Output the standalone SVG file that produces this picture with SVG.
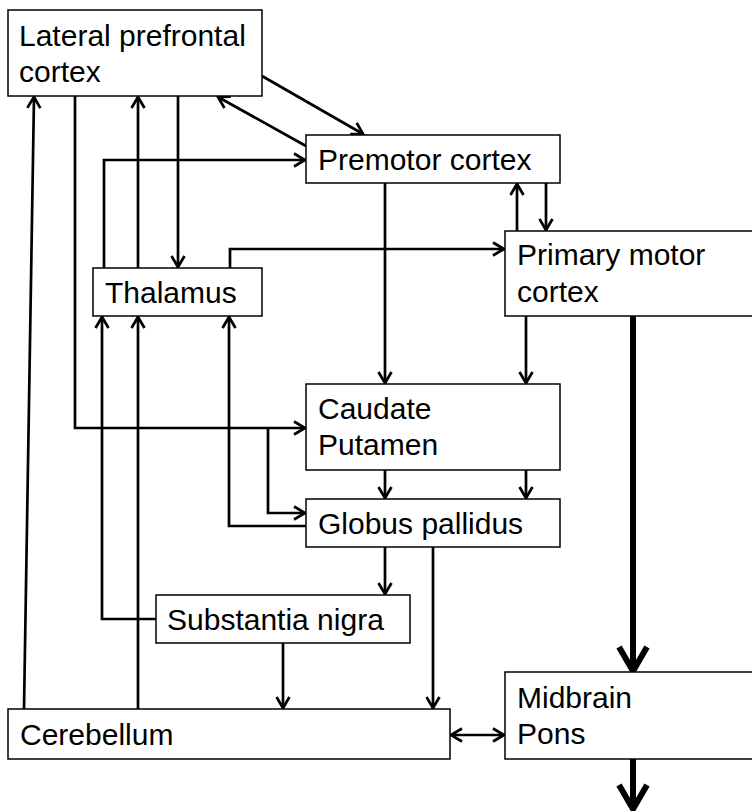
<svg xmlns="http://www.w3.org/2000/svg" width="752" height="811" viewBox="0 0 752 811">
<style>
.box{fill:#fff;stroke:#000;stroke-width:1.5}
.lbl{font-family:"Liberation Sans",Arial,sans-serif;font-size:30px;fill:#000}
.c{fill:none;stroke:#000;stroke-width:2.7;marker-end:url(#a)}
.t{fill:none;stroke:#000;stroke-width:6;marker-end:url(#b)}
</style>
<defs>
<marker id="a" markerUnits="userSpaceOnUse" markerWidth="16" markerHeight="16" refX="12" refY="7" orient="auto" overflow="visible">
<path d="M1,0.5 L12,7 L1,13.5" fill="none" stroke="#000" stroke-width="2.7"/>
</marker>
<marker id="s" markerUnits="userSpaceOnUse" markerWidth="16" markerHeight="16" refX="12" refY="7" orient="auto-start-reverse" overflow="visible">
<path d="M1,0.5 L12,7 L1,13.5" fill="none" stroke="#000" stroke-width="2.7"/>
</marker>
<marker id="b" markerUnits="userSpaceOnUse" markerWidth="32" markerHeight="32" refX="26" refY="15" orient="auto" overflow="visible">
<path d="M2,1 L26,15 L2,29" fill="none" stroke="#000" stroke-width="6"/>
</marker>
</defs>
<g id="connectors">
<path class="c" d="M24,709 L34,97"/>
<path class="c" d="M138,709 L138,317"/>
<path class="c" d="M138,268 L138,97"/>
<path class="c" d="M178,96 L178,267"/>
<path class="c" d="M75,96 L75,428 L305,428"/>
<path class="c" d="M268,428 L268,513 L305,513"/>
<path class="c" d="M104,268 L104,160 L305,160"/>
<path class="c" d="M262,76 L363,134"/>
<path class="c" d="M306,146 L218,97"/>
<path class="c" d="M230,268 L230,249 L504,249"/>
<path class="c" d="M546,183 L546,230"/>
<path class="c" d="M517,231 L517,184"/>
<path class="c" d="M385,183 L385,383"/>
<path class="c" d="M526,316 L526,383"/>
<path class="c" d="M385,470 L385,498"/>
<path class="c" d="M526,470 L526,498"/>
<path class="c" d="M306,526 L229,526 L229,317"/>
<path class="c" d="M156,619 L102,619 L102,317"/>
<path class="c" d="M385,547 L385,594"/>
<path class="c" d="M433,547 L433,708"/>
<path class="c" d="M283,643 L283,708"/>
<path class="c" d="M451,735 L504,735" marker-start="url(#s)"/>
<path class="t" d="M633,316 L633,671"/>
<path class="t" d="M633,759 L633,809"/>
</g>
<g id="lateral-prefrontal-cortex">
<rect class="box" x="8" y="10" width="254" height="86"/>
<text class="lbl" x="19" y="46">Lateral prefrontal</text>
<text class="lbl" x="19" y="82">cortex</text>
</g>
<g id="thalamus">
<rect class="box" x="93" y="268" width="169" height="48"/>
<text class="lbl" x="105" y="303">Thalamus</text>
</g>
<g id="premotor-cortex">
<rect class="box" x="306" y="135" width="254" height="48"/>
<text class="lbl" x="318" y="170">Premotor cortex</text>
</g>
<g id="primary-motor-cortex">
<rect class="box" x="505" y="231" width="260" height="85"/>
<text class="lbl" x="517" y="265">Primary motor</text>
<text class="lbl" x="517" y="302">cortex</text>
</g>
<g id="caudate-putamen">
<rect class="box" x="306" y="384" width="254" height="86"/>
<text class="lbl" x="318" y="419">Caudate</text>
<text class="lbl" x="318" y="455">Putamen</text>
</g>
<g id="globus-pallidus">
<rect class="box" x="306" y="499" width="254" height="48"/>
<text class="lbl" x="318" y="534">Globus pallidus</text>
</g>
<g id="substantia-nigra">
<rect class="box" x="156" y="595" width="254" height="48"/>
<text class="lbl" x="167" y="630">Substantia nigra</text>
</g>
<g id="cerebellum">
<rect class="box" x="8" y="709" width="442" height="50"/>
<text class="lbl" x="20" y="745">Cerebellum</text>
</g>
<g id="midbrain-pons">
<rect class="box" x="505" y="672" width="260" height="87"/>
<text class="lbl" x="517" y="708">Midbrain</text>
<text class="lbl" x="517" y="744">Pons</text>
</g>
</svg>
